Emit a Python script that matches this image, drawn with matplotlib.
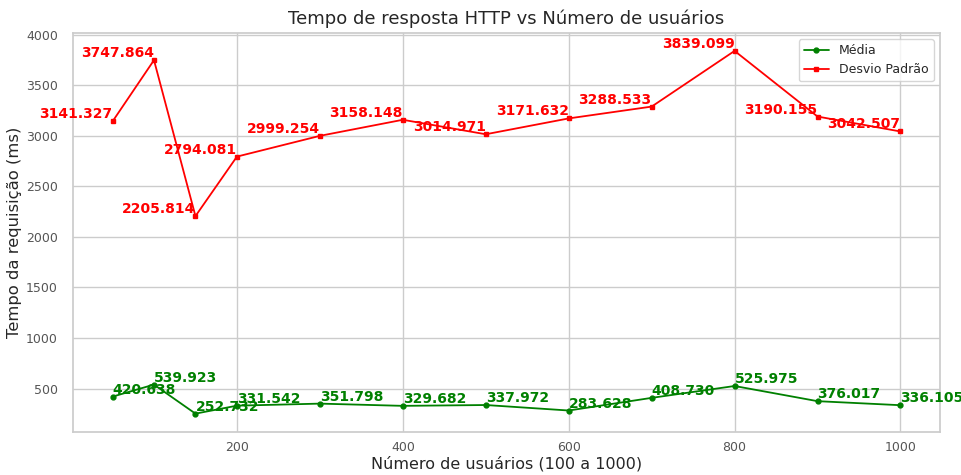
import matplotlib.pyplot as plt
import seaborn as sns

usuarios = [50, 100, 150, 200, 300, 400, 500, 600, 700, 800, 900, 1000]
media = [420.638, 539.923, 252.732, 331.542, 351.798, 329.682, 337.972,
         283.628, 408.730, 525.975, 376.017, 336.105]
desvio = [3141.327, 3747.864, 2205.814, 2794.081, 2999.254, 3158.148, 3014.971,
          3171.632, 3288.533, 3839.099, 3190.155, 3042.507]

sns.set_theme(style='whitegrid')
plt.rcParams['font.family'] = ['DejaVu Sans']

fig, ax = plt.subplots(figsize=(9.62, 4.75), dpi=100)
fig.subplots_adjust(left=0.076, right=0.977, top=0.931, bottom=0.091)

ax.plot(usuarios, media, color='green', marker='o', markersize=3.5, linewidth=1.3, label='Média')
ax.plot(usuarios, desvio, color='red', marker='s', markersize=3.5, linewidth=1.3, label='Desvio Padrão')

for x, y in zip(usuarios, media):
    ax.text(x, y, f'{y:.3f}', color='green', fontsize=10, fontweight='bold', ha='left', va='bottom')
for x, y in zip(usuarios, desvio):
    ax.text(x, y, f'{y:.3f}', color='red', fontsize=10, fontweight='bold', ha='right', va='bottom')

ax.set_title('Tempo de resposta HTTP vs Número de usuários', fontsize=13, pad=6)
ax.set_xlabel('Número de usuários (100 a 1000)', fontsize=11.5, labelpad=1)
ax.set_ylabel('Tempo da requisição (ms)', fontsize=11.8, labelpad=3)
ax.tick_params(labelsize=9, colors='#555555')
ax.tick_params(axis='y', pad=5)
ax.tick_params(axis='x', pad=1)
ax.legend(loc='upper right', fontsize=9)

plt.savefig('out.png', dpi=100)
